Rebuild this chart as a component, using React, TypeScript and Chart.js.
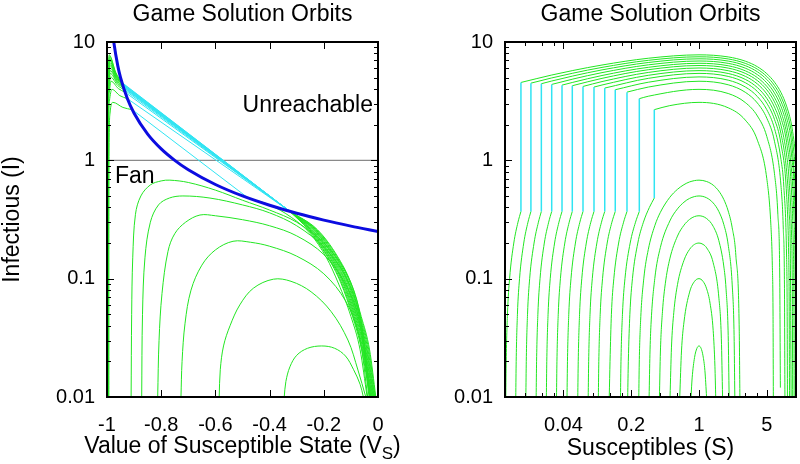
import React, { useEffect, useRef } from "react";
import { Chart, registerables } from "chart.js";
Chart.register(...registerables);

type P = [number, number];

const chartTitle = "Game Solution Orbits";
const leftXLabel = "Value of Susceptible State (V";
const leftXSub = "S";
const leftYLabel = "Infectious (I)";
const rightXLabel = "Susceptibles (S)";
const noteUnreachable = "Unreachable";
const noteFan = "Fan";

const leftXTicks = [-1, -0.8, -0.6, -0.4, -0.2, 0];
const leftXTickLabels = ["-1", "-0.8", "-0.6", "-0.4", "-0.2", "0"];
const yTicks = [0.01, 0.1, 1, 10];
const yTickLabels = ["0.01", "0.1", "1", "10"];
const yMinorTicks = [0.02, 0.03, 0.04, 0.05, 0.06, 0.07, 0.08, 0.09, 0.2, 0.3, 0.4, 0.5, 0.6, 0.7, 0.8, 0.9, 2, 3, 4, 5, 6, 7, 8, 9];
const rightXTicks = [0.04, 0.2, 1, 5];
const rightXTickLabels = ["0.04", "0.2", "1", "5"];
const rightXMinorTicks = [0.016, 0.024, 0.032, 0.08, 0.12, 0.16, 0.4, 0.6, 0.8, 2, 3, 4];

// ---------- left panel (V_S, I) ----------
const leftBlue: P[] = [
  [-0.978, 11.4], [-0.975, 10], [-0.96, 6.25], [-0.95, 5], [-0.925, 3.33], [-0.9, 2.5], [-0.85, 1.667],
  [-0.8, 1.25], [-0.75, 1.0], [-0.7, 0.833], [-0.6, 0.625], [-0.5, 0.5], [-0.4, 0.417], [-0.3, 0.357],
  [-0.2, 0.3125], [-0.1, 0.278], [0, 0.25],
];
const leftUnitLine: P[] = [[-1, 1], [0, 1]];

const leftGreenStart: P[][] = [
  [[-0.9965, 0.01], [-0.9965, 0.3], [-0.9962, 2.73], [-0.9945, 6.23], [-0.992, 7.79], [-0.9675, 5.52], [-0.945, 4.55]],
  [[-0.9964, 0.01], [-0.9964, 0.3], [-0.9961, 2.63], [-0.9943, 6.0], [-0.9915, 7.5], [-0.9665, 5.39], [-0.944, 4.49]],
  [[-0.9963, 0.01], [-0.9963, 0.3], [-0.996, 2.52], [-0.9941, 5.77], [-0.991, 7.21], [-0.9665, 5.27], [-0.944, 4.44]],
  [[-0.9962, 0.01], [-0.9962, 0.3], [-0.9959, 2.42], [-0.9939, 5.53], [-0.9905, 6.91], [-0.9655, 5.14], [-0.943, 4.38]],
  [[-0.9961, 0.01], [-0.9961, 0.3], [-0.9958, 2.31], [-0.9937, 5.29], [-0.99, 6.61], [-0.965, 5.01], [-0.942, 4.32]],
  [[-0.996, 0.01], [-0.996, 0.3], [-0.9957, 2.22], [-0.9935, 5.06], [-0.9895, 6.33], [-0.964, 4.89], [-0.941, 4.27]],
  [[-0.9959, 0.01], [-0.9959, 0.3], [-0.9956, 2.11], [-0.9933, 4.82], [-0.989, 6.03], [-0.964, 4.76], [-0.941, 4.21]],
  [[-0.9958, 0.01], [-0.9958, 0.3], [-0.9955, 2.0], [-0.993, 4.58], [-0.9885, 5.73], [-0.963, 4.63], [-0.94, 4.16]],
  [[-0.9957, 0.01], [-0.9957, 0.3], [-0.9954, 1.9], [-0.9927, 4.34], [-0.988, 5.43], [-0.962, 4.49], [-0.939, 4.08]],
  [[-0.9955, 0.01], [-0.9955, 0.3], [-0.9952, 1.77], [-0.9923, 4.06], [-0.987, 5.07], [-0.9605, 4.29], [-0.937, 3.95]],
  [[-0.9952, 0.01], [-0.9952, 0.3], [-0.9949, 1.63], [-0.9918, 3.73], [-0.985, 4.66], [-0.958, 4.04], [-0.934, 3.77]],
  [[-0.9945, 0.01], [-0.9945, 0.3], [-0.9942, 1.39], [-0.991, 3.18], [-0.982, 3.98], [-0.9525, 3.52], [-0.925, 3.32]],
  [[-0.993, 0.01], [-0.993, 0.3], [-0.9925, 1.08], [-0.989, 2.47], [-0.978, 3.09], [-0.9415, 2.8], [-0.907, 2.68]],
];

const leftCyan: P[][] = [
  [[-0.945, 4.55], [-0.325, 0.37]],
  [[-0.944, 4.49], [-0.325, 0.37]],
  [[-0.944, 4.44], [-0.325, 0.37]],
  [[-0.943, 4.38], [-0.325, 0.37]],
  [[-0.942, 4.32], [-0.325, 0.37]],
  [[-0.941, 4.27], [-0.325, 0.37]],
  [[-0.941, 4.21], [-0.325, 0.37]],
  [[-0.94, 4.16], [-0.325, 0.37]],
  [[-0.939, 4.08], [-0.325, 0.37]],
  [[-0.937, 3.95], [-0.325, 0.37]],
  [[-0.934, 3.77], [-0.325, 0.37]],
  [[-0.925, 3.32], [-0.325, 0.37]],
  [[-0.907, 2.68], [-0.479, 0.48]],
];

const leftGreenEnd: P[][] = [
  [[-0.325, 0.37], [-0.224, 0.26], [-0.15, 0.155], [-0.1, 0.092], [-0.062, 0.048], [-0.031, 0.025], [-0.008, 0.01]],
  [[-0.325, 0.37], [-0.227, 0.26], [-0.153, 0.155], [-0.103, 0.092], [-0.065, 0.048], [-0.034, 0.025], [-0.01, 0.01]],
  [[-0.325, 0.37], [-0.23, 0.26], [-0.157, 0.155], [-0.107, 0.092], [-0.068, 0.048], [-0.037, 0.025], [-0.012, 0.01]],
  [[-0.325, 0.37], [-0.233, 0.26], [-0.16, 0.155], [-0.11, 0.092], [-0.071, 0.048], [-0.04, 0.025], [-0.014, 0.01]],
  [[-0.325, 0.37], [-0.236, 0.26], [-0.164, 0.155], [-0.113, 0.092], [-0.074, 0.048], [-0.042, 0.025], [-0.016, 0.01]],
  [[-0.325, 0.37], [-0.239, 0.26], [-0.167, 0.155], [-0.117, 0.092], [-0.077, 0.048], [-0.045, 0.025], [-0.018, 0.01]],
  [[-0.325, 0.37], [-0.243, 0.26], [-0.171, 0.155], [-0.12, 0.092], [-0.079, 0.048], [-0.047, 0.025], [-0.02, 0.01]],
  [[-0.325, 0.37], [-0.246, 0.26], [-0.174, 0.155], [-0.124, 0.092], [-0.082, 0.048], [-0.05, 0.025], [-0.022, 0.01]],
  [[-0.325, 0.37], [-0.249, 0.26], [-0.178, 0.155], [-0.127, 0.092], [-0.085, 0.048], [-0.052, 0.025], [-0.024, 0.01]],
  [[-0.325, 0.37], [-0.252, 0.26], [-0.181, 0.155], [-0.13, 0.092], [-0.088, 0.048], [-0.055, 0.025], [-0.026, 0.01]],
  [[-0.325, 0.37], [-0.255, 0.26], [-0.185, 0.155], [-0.134, 0.092], [-0.091, 0.048], [-0.057, 0.025], [-0.028, 0.01]],
  [[-0.325, 0.37], [-0.258, 0.26], [-0.188, 0.155], [-0.137, 0.092], [-0.094, 0.048], [-0.06, 0.025], [-0.03, 0.01]],
  [[-0.479, 0.48], [-0.4, 0.42], [-0.32, 0.33], [-0.25, 0.24], [-0.19, 0.15], [-0.145, 0.09], [-0.1, 0.048], [-0.066, 0.025], [-0.04, 0.01]],
];

const leftInner: P[][] = [
  [[-0.911, 0.01], [-0.909, 0.05], [-0.905, 0.15], [-0.895, 0.35], [-0.875, 0.5], [-0.84, 0.62], [-0.8, 0.67], [-0.768, 0.68], [-0.7, 0.65], [-0.6, 0.56], [-0.5, 0.46], [-0.4, 0.38], [-0.3, 0.3], [-0.2, 0.2], [-0.12, 0.115], [-0.07, 0.055], [-0.028, 0.01]],
  [[-0.872, 0.01], [-0.869, 0.05], [-0.86, 0.15], [-0.84, 0.3], [-0.81, 0.42], [-0.77, 0.48], [-0.72, 0.5], [-0.62, 0.48], [-0.5, 0.42], [-0.4, 0.36], [-0.3, 0.28], [-0.2, 0.185], [-0.12, 0.105], [-0.07, 0.05], [-0.03, 0.01]],
  [[-0.813, 0.01], [-0.808, 0.03], [-0.797, 0.075], [-0.775, 0.17], [-0.75, 0.24], [-0.71, 0.3], [-0.657, 0.345], [-0.6, 0.34], [-0.5, 0.315], [-0.4, 0.28], [-0.3, 0.23], [-0.2, 0.16], [-0.12, 0.09], [-0.07, 0.045], [-0.033, 0.01]],
  [[-0.727, 0.01], [-0.723, 0.02], [-0.712, 0.042], [-0.69, 0.08], [-0.65, 0.13], [-0.6, 0.175], [-0.535, 0.207], [-0.47, 0.203], [-0.4, 0.188], [-0.3, 0.155], [-0.2, 0.11], [-0.12, 0.065], [-0.07, 0.033], [-0.038, 0.01]],
  [[-0.586, 0.01], [-0.582, 0.017], [-0.57, 0.027], [-0.546, 0.04], [-0.51, 0.06], [-0.46, 0.083], [-0.386, 0.099], [-0.321, 0.095], [-0.247, 0.0775], [-0.173, 0.0527], [-0.111, 0.0303], [-0.074, 0.0169], [-0.045, 0.01]],
  [[-0.346, 0.01], [-0.34, 0.0135], [-0.325, 0.018], [-0.3, 0.0225], [-0.26, 0.0258], [-0.208, 0.027], [-0.16, 0.0258], [-0.12, 0.0222], [-0.09, 0.017], [-0.066, 0.0128], [-0.054, 0.01]],
];

// ---------- right panel (S, I) ----------
const rightUpper: P[][] = [
  [[0.0146, 4.55], [0.03, 5.25], [0.05, 5.74], [0.1, 6.39], [0.3, 7.29], [1, 7.79], [2, 7.48], [3, 6.89], [4, 6.18], [5, 5.4], [6, 4.58], [7, 3.74], [8, 2.87], [9, 1.99], [10, 1.09]],
  [[0.0185, 4.49], [0.03, 4.96], [0.05, 5.45], [0.1, 6.1], [0.3, 7.0], [1, 7.5], [2, 7.19], [3, 6.6], [4, 5.89], [5, 5.11], [6, 4.29], [7, 3.45], [8, 2.58], [9, 1.7], [10, 0.8]],
  [[0.0237, 4.44], [0.03, 4.67], [0.05, 5.16], [0.1, 5.81], [0.3, 6.71], [1, 7.21], [2, 6.9], [3, 6.31], [4, 5.6], [5, 4.82], [6, 4.0], [7, 3.16], [8, 2.29], [9, 1.41], [10, 0.51]],
  [[0.0303, 4.38], [0.05, 4.86], [0.1, 5.51], [0.3, 6.41], [1, 6.91], [2, 6.6], [3, 6.01], [4, 5.3], [5, 4.52], [6, 3.7], [7, 2.86], [8, 1.99], [9, 1.11], [9.5, 0.66], [10, 0.21]],
  [[0.0387, 4.32], [0.05, 4.56], [0.1, 5.21], [0.3, 6.11], [1, 6.61], [2, 6.3], [3, 5.71], [4, 5.0], [5, 4.22], [6, 3.4], [7, 2.56], [8, 1.69], [9, 0.81], [9.5, 0.36], [9.8, 0.09], [9.89, 0.01]],
  [[0.0494, 4.27], [0.1, 4.93], [0.3, 5.83], [1, 6.33], [2, 6.02], [3, 5.43], [4, 4.72], [5, 3.94], [6, 3.12], [7, 2.28], [8, 1.41], [9, 0.53], [9.4, 0.17], [9.5, 0.081], [9.58, 0.01]],
  [[0.0637, 4.21], [0.1, 4.63], [0.3, 5.53], [1, 6.03], [2, 5.72], [3, 5.13], [4, 4.42], [5, 3.64], [6, 2.82], [7, 1.98], [8, 1.11], [8.5, 0.67], [9, 0.23], [9.15, 0.094], [9.245, 0.01]],
  [[0.0827, 4.16], [0.1, 4.33], [0.3, 5.23], [1, 5.73], [2, 5.42], [3, 4.83], [4, 4.12], [5, 3.34], [6, 2.52], [7, 1.68], [8, 0.81], [8.5, 0.37], [8.75, 0.149], [8.907, 0.01]],
  [[0.1067, 4.08], [0.3, 4.93], [1, 5.43], [2, 5.12], [3, 4.53], [4, 3.82], [5, 3.04], [6, 2.22], [7, 1.38], [8, 0.51], [8.4, 0.16], [8.5, 0.07], [8.57, 0.01]],
  [[0.137, 3.95], [0.3, 4.57], [1, 5.07], [2, 4.76], [3, 4.17], [4, 3.46], [5, 2.68], [6, 1.86], [7, 1.02], [7.5, 0.59], [8, 0.15], [8.1, 0.062], [8.16, 0.01]],
  [[0.181, 3.77], [0.3, 4.16], [1, 4.66], [2, 4.35], [3, 3.76], [4, 3.05], [5, 2.27], [6, 1.45], [7, 0.61], [7.4, 0.26], [7.6, 0.09], [7.69, 0.01]],
  [[0.2425, 3.32], [0.3, 3.48], [1, 3.98], [2, 3.67], [3, 3.08], [4, 2.37], [5, 1.59], [6, 0.77], [6.5, 0.35], [6.8, 0.1], [6.9, 0.012]],
  [[0.346, 2.68], [0.5, 2.9], [1, 3.09], [2, 2.78], [3, 2.19], [4, 1.48], [5, 0.7], [5.5, 0.29], [5.7, 0.13], [5.8, 0.048], [5.84, 0.01]],
];

const rightCyan: P[][] = [
  [[0.0146, 0.37], [0.0146, 4.55]],
  [[0.0185, 0.37], [0.0185, 4.49]],
  [[0.0237, 0.37], [0.0237, 4.44]],
  [[0.0303, 0.37], [0.0303, 4.38]],
  [[0.0387, 0.37], [0.0387, 4.32]],
  [[0.0494, 0.37], [0.0494, 4.27]],
  [[0.0637, 0.37], [0.0637, 4.21]],
  [[0.0827, 0.37], [0.0827, 4.16]],
  [[0.1067, 0.37], [0.1067, 4.08]],
  [[0.137, 0.37], [0.137, 3.95]],
  [[0.181, 0.37], [0.181, 3.77]],
  [[0.2425, 0.37], [0.2425, 3.32]],
  [[0.346, 0.48], [0.346, 2.68]],
];

const rightLower: P[][] = [
  [[0.01019, 0.01], [0.01029, 0.02], [0.0106, 0.05], [0.01115, 0.1], [0.01232, 0.2], [0.01361, 0.3], [0.0146, 0.37]],
  [[0.01291, 0.01], [0.01304, 0.02], [0.01343, 0.05], [0.01412, 0.1], [0.01561, 0.2], [0.01725, 0.3], [0.0185, 0.37]],
  [[0.01641, 0.01], [0.01657, 0.02], [0.01707, 0.05], [0.01796, 0.1], [0.01993, 0.2], [0.0221, 0.3], [0.0237, 0.37]],
  [[0.02095, 0.01], [0.02116, 0.02], [0.02182, 0.05], [0.02297, 0.1], [0.02543, 0.2], [0.0282, 0.3], [0.0303, 0.37]],
  [[0.02669, 0.01], [0.02696, 0.02], [0.0278, 0.05], [0.02927, 0.1], [0.03245, 0.2], [0.03599, 0.3], [0.0387, 0.37]],
  [[0.03396, 0.01], [0.03431, 0.02], [0.03539, 0.05], [0.03727, 0.1], [0.04136, 0.2], [0.04591, 0.3], [0.0494, 0.37]],
  [[0.04359, 0.01], [0.04405, 0.02], [0.04545, 0.05], [0.0479, 0.1], [0.0532, 0.2], [0.05913, 0.3], [0.0637, 0.37]],
  [[0.05627, 0.01], [0.05688, 0.02], [0.0587, 0.05], [0.0619, 0.1], [0.06888, 0.2], [0.07668, 0.3], [0.0827, 0.37]],
  [[0.07208, 0.01], [0.07286, 0.02], [0.07525, 0.05], [0.07942, 0.1], [0.08853, 0.2], [0.09877, 0.3], [0.1067, 0.37]],
  [[0.0917, 0.01], [0.09271, 0.02], [0.09582, 0.05], [0.1013, 0.1], [0.1131, 0.2], [0.1265, 0.3], [0.137, 0.37]],
  [[0.1188, 0.01], [0.121, 0.02], [0.125, 0.05], [0.1324, 0.1], [0.1484, 0.2], [0.1668, 0.3], [0.181, 0.37]],
  [[0.1551, 0.01], [0.1569, 0.02], [0.1625, 0.05], [0.1725, 0.1], [0.1952, 0.2], [0.2216, 0.3], [0.2425, 0.37]],
  [[0.184, 0.01], [0.1868, 0.02], [0.1938, 0.05], [0.206, 0.1], [0.234, 0.2], [0.2673, 0.3], [0.308, 0.4], [0.346, 0.48]],
];

const rightInner: P[][] = [
  [[0.2395, 0.01], [0.242, 0.019], [0.25, 0.044], [0.27, 0.101], [0.3, 0.176], [0.35, 0.28], [0.4, 0.364], [0.5, 0.487], [0.6, 0.569], [0.7, 0.623], [0.8, 0.657], [1, 0.68], [1.2, 0.662], [1.4, 0.617], [1.6, 0.55], [1.8, 0.468], [2, 0.373], [2.2, 0.269], [2.4, 0.156], [2.6, 0.036], [2.64, 0.01]],
  [[0.306, 0.01], [0.312, 0.023], [0.32, 0.041], [0.35, 0.1], [0.4, 0.184], [0.5, 0.307], [0.6, 0.389], [0.7, 0.443], [0.8, 0.477], [1, 0.5], [1.2, 0.482], [1.4, 0.4365], [1.6, 0.37], [1.8, 0.288], [2, 0.193], [2.2, 0.0885], [2.3, 0.033], [2.34, 0.01]],
  [[0.391, 0.01], [0.4, 0.024], [0.42, 0.0525], [0.45, 0.0915], [0.5, 0.147], [0.6, 0.229], [0.7, 0.283], [0.8, 0.317], [0.9, 0.335], [1, 0.34], [1.2, 0.322], [1.4, 0.277], [1.6, 0.21], [1.8, 0.128], [1.9, 0.082], [2, 0.033], [2.045, 0.01]],
  [[0.503, 0.01], [0.52, 0.026], [0.55, 0.052], [0.6, 0.089], [0.7, 0.143], [0.8, 0.177], [0.9, 0.195], [1, 0.2], [1.1, 0.195], [1.2, 0.182], [1.4, 0.1365], [1.6, 0.07], [1.7, 0.031], [1.75, 0.01]],
  [[0.633, 0.01], [0.66, 0.0245], [0.7, 0.043], [0.8, 0.077], [0.9, 0.095], [1, 0.1], [1.1, 0.095], [1.2, 0.082], [1.3, 0.062], [1.4, 0.0365], [1.46, 0.018], [1.487, 0.01]],
  [[0.827, 0.01], [0.85, 0.0145], [0.9, 0.0216], [0.95, 0.0257], [1, 0.027], [1.05, 0.0258], [1.1, 0.0223], [1.15, 0.0168], [1.197, 0.01]],
];

// ---------- styling ----------
const FONT = '"Liberation Sans", Arial, Helvetica, sans-serif';
const GREEN = "#22e622";
const CYAN = "#30e4f2";
const BLUE = "#0c0ce0";
const GRAY = "#8a8a8a";
const TITLE_PX = 23;
const TICK_PX = 20;

function line(pts: P[], color: string, width: number, mode: "straight" | "mono" | "smooth") {
  return {
    data: pts.map(([x, y]) => ({ x, y })),
    borderColor: color,
    borderWidth: width,
    pointRadius: 0,
    pointHoverRadius: 0,
    fill: false,
    showLine: true,
    clip: 0,
    tension: mode === "smooth" ? 0.35 : 0,
    cubicInterpolationMode: mode === "mono" ? "monotone" : "default",
  };
}

type PanelOpts = {
  xTitle: string;
  xSub?: string;
  xTitleY: number;
  yTitle?: string;
  xMinor: number[];
  xMajor: number[];
  notes?: { text: string; x: number; y: number; align: CanvasTextAlign }[];
};

function panelPlugin(o: PanelOpts) {
  return {
    id: "panelDecor",
    afterDatasetsDraw(chart: any) {
      const { ctx, chartArea: a, scales } = chart;
      const xs = scales.x;
      const ys = scales.y;
      ctx.save();
      ctx.strokeStyle = "#000";
      ctx.lineWidth = 1;
      ctx.beginPath();
      const xt = (vals: number[], len: number) => {
        vals.forEach((v) => {
          const px = Math.round(xs.getPixelForValue(v)) + 0.5;
          if (px < a.left - 1 || px > a.right + 1) return;
          ctx.moveTo(px, a.bottom);
          ctx.lineTo(px, a.bottom - len);
          ctx.moveTo(px, a.top);
          ctx.lineTo(px, a.top + len);
        });
      };
      const yt = (vals: number[], len: number) => {
        vals.forEach((v) => {
          const py = Math.round(ys.getPixelForValue(v)) + 0.5;
          ctx.moveTo(a.left, py);
          ctx.lineTo(a.left + len, py);
          ctx.moveTo(a.right, py);
          ctx.lineTo(a.right - len, py);
        });
      };
      xt(o.xMajor, 7);
      xt(o.xMinor, 4);
      yt(yTicks, 7);
      yt(yMinorTicks, 4);
      ctx.stroke();
      ctx.lineWidth = 2;
      ctx.strokeRect(a.left, a.top, a.right - a.left, a.bottom - a.top);

      ctx.fillStyle = "#000";
      const cx = (a.left + a.right) / 2;
      ctx.font = `${TITLE_PX}px ${FONT}`;
      ctx.textBaseline = "alphabetic";
      ctx.textAlign = "center";
      ctx.fillText(chartTitle, cx, 21);

      const main = o.xTitle;
      const wMain = ctx.measureText(main).width;
      let wSub = 0;
      let wClose = 0;
      if (o.xSub) {
        ctx.font = `17px ${FONT}`;
        wSub = ctx.measureText(o.xSub).width;
        ctx.font = `${TITLE_PX}px ${FONT}`;
        wClose = ctx.measureText(")").width;
      }
      const total = wMain + wSub + wClose;
      const x0 = cx - total / 2;
      ctx.textAlign = "left";
      ctx.font = `${TITLE_PX}px ${FONT}`;
      ctx.fillText(main, x0, o.xTitleY);
      if (o.xSub) {
        ctx.font = `17px ${FONT}`;
        ctx.fillText(o.xSub, x0 + wMain, o.xTitleY + 6);
        ctx.font = `${TITLE_PX}px ${FONT}`;
        ctx.fillText(")", x0 + wMain + wSub, o.xTitleY);
      }

      if (o.yTitle) {
        ctx.save();
        ctx.translate(19, (a.top + a.bottom) / 2);
        ctx.rotate(-Math.PI / 2);
        ctx.textAlign = "center";
        ctx.font = `${TITLE_PX}px ${FONT}`;
        ctx.fillText(o.yTitle, 0, 0);
        ctx.restore();
      }

      (o.notes || []).forEach((n) => {
        ctx.font = `${TITLE_PX}px ${FONT}`;
        ctx.textAlign = n.align;
        ctx.fillText(n.text, n.x, n.y);
      });
      ctx.restore();
    },
  };
}

function axisCommon(values: number[], labels: string[], padding: number) {
  return {
    afterBuildTicks: (s: any) => {
      s.ticks = values.map((v) => ({ value: v }));
    },
    ticks: {
      callback: (_v: any, i: number) => labels[i],
      font: { family: FONT, size: TICK_PX },
      color: "#000",
      padding,
      maxRotation: 0,
      minRotation: 0,
      autoSkip: false,
    },
    grid: { display: false, drawTicks: false },
    border: { display: false },
  };
}

function buildConfig(side: "left" | "right"): any {
  const isLeft = side === "left";
  const datasets: any[] = [];
  if (isLeft) {
    datasets.push(line(leftBlue, BLUE, 3, "mono"));
    leftCyan.forEach((c) => datasets.push(line(c, CYAN, 1, "straight")));
    leftGreenStart.forEach((c) => datasets.push(line(c, GREEN, 1, "mono")));
    leftGreenEnd.forEach((c) => datasets.push(line(c, GREEN, 1, "mono")));
    leftInner.forEach((c) => datasets.push(line(c, GREEN, 1, "smooth")));
    datasets.push(line(leftUnitLine, GRAY, 1.2, "straight"));
  } else {
    rightCyan.forEach((c) => datasets.push(line(c, CYAN, 1.5, "straight")));
    rightUpper.forEach((c) => datasets.push(line(c, GREEN, 1, "mono")));
    rightLower.forEach((c) => datasets.push(line(c, GREEN, 1, "mono")));
    rightInner.forEach((c) => datasets.push(line(c, GREEN, 1, "mono")));
  }
  const plotLeft = isLeft ? 107 : 105;
  const padRight = isLeft ? 22 : 4;
  return {
    type: "line",
    data: { datasets },
    options: {
      animation: false,
      responsive: false,
      devicePixelRatio: 1,
      events: [],
      layout: { padding: { left: 0, right: padRight, top: 42, bottom: 0 } },
      plugins: { legend: { display: false }, tooltip: { enabled: false }, title: { display: false } },
      scales: {
        x: isLeft
          ? {
              type: "linear",
              min: -1,
              max: 0,
              ...axisCommon(leftXTicks, leftXTickLabels, 16),
              afterFit: (s: any) => {
                s.height = 67;
              },
            }
          : {
              type: "logarithmic",
              min: 0.01,
              max: 10,
              ...axisCommon(rightXTicks, rightXTickLabels, 16),
              afterFit: (s: any) => {
                s.height = 67;
              },
            },
        y: {
          type: "logarithmic",
          min: 0.01,
          max: 10,
          ...axisCommon(yTicks, yTickLabels, 12),
          afterFit: (s: any) => {
            s.width = plotLeft;
          },
        },
      },
    },
    plugins: [
      panelPlugin(
        isLeft
          ? {
              xTitle: leftXLabel,
              xSub: leftXSub,
              xTitleY: 453,
              yTitle: leftYLabel,
              xMajor: leftXTicks,
              xMinor: [],
              notes: [
                { text: noteUnreachable, x: 373, y: 112, align: "right" },
                { text: noteFan, x: 115, y: 183, align: "left" },
              ],
            }
          : { xTitle: rightXLabel, xTitleY: 455, xMajor: rightXTicks, xMinor: rightXMinorTicks }
      ),
    ],
  };
}

function Panel({ side, left }: { side: "left" | "right"; left: number }) {
  const ref = useRef<HTMLCanvasElement | null>(null);
  useEffect(() => {
    if (!ref.current) return;
    const chart = new Chart(ref.current, buildConfig(side));
    return () => chart.destroy();
  }, [side]);
  return (
    <canvas
      ref={ref}
      width={400}
      height={464}
      style={{ position: "absolute", left, top: 0, width: 400, height: 464 }}
    />
  );
}

export default function App() {
  return (
    <div style={{ position: "fixed", left: 0, top: 0, width: 800, height: 464, background: "#fff" }}>
      <Panel side="left" left={0} />
      <Panel side="right" left={400} />
    </div>
  );
}
